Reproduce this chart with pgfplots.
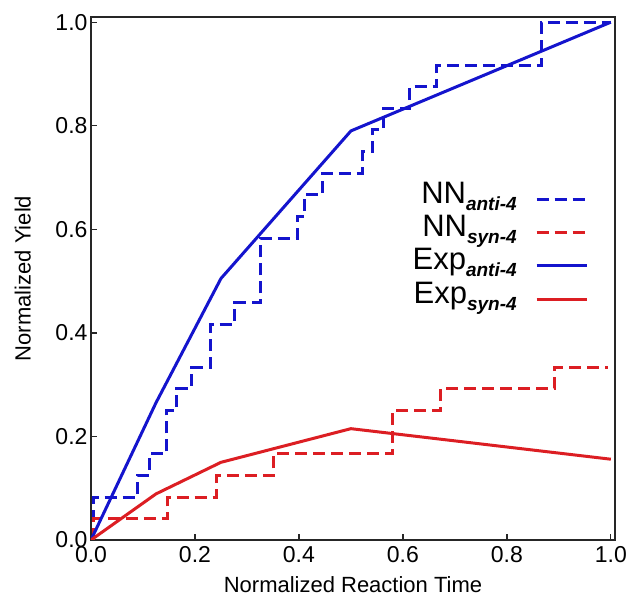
\documentclass[border=0pt]{standalone}
\usepackage{fontspec}
\setmainfont{Liberation Sans}
\usepackage{pgfplots}
\pgfplotsset{compat=1.18}
\definecolor{cblue}{RGB}{20,20,205}
\definecolor{cred}{RGB}{220,30,35}
\newcommand{\sub}[1]{\raisebox{-7pt}{\fontsize{19}{19}\selectfont\bfseries\itshape #1}}
\begin{document}
\begin{tikzpicture}
\begin{axis}[
  scale only axis, width=524pt, height=523pt,
  xmin=0, xmax=1.008, ymin=0, ymax=1.01,
  xtick={0,0.2,0.4,0.6,0.8,1.0}, ytick={0,0.2,0.4,0.6,0.8,1.0},
  tick align=inside, xtick pos=bottom, ytick pos=left,
  major tick length=6pt,
  axis line style={line width=1.3pt, black!85},
  every tick/.style={line width=1.3pt, black!85},
  /pgf/number format/assume math mode=true,
  /pgf/number format/.cd, fixed, fixed zerofill, precision=1, /pgfplots/.cd,
  tick label style={font=\fontsize{23}{23}\selectfont},
  xticklabel style={yshift=-3pt},
  xlabel={Normalized Reaction Time},
  ylabel={Normalized Yield},
  xlabel style={font=\fontsize{22}{22}\selectfont, at={(axis description cs:0.5,-0.101)}, anchor=base},
  ylabel style={font=\fontsize{22}{22}\selectfont, at={(axis description cs:-0.13,0.5)}, anchor=center},
  legend style={draw=none, fill=none, at={(axis description cs:0.955,0.693)}, anchor=north east,
    font=\fontsize{31}{31}\selectfont, row sep=6.5pt, cells={anchor=east}},
  legend plot pos=right,
  legend image code/.code={\path[draw=none] (0pt,-6pt) -- (18pt,-6pt); \draw[#1] (18pt,-6pt) -- (68pt,-6pt);},
]
\addplot[cblue, line width=3pt, dash pattern=on 12pt off 6pt] coordinates {
(0.005,0) (0.005,0.083) (0.09,0.083) (0.09,0.125) (0.112,0.125) (0.112,0.167)
(0.146,0.167) (0.146,0.25) (0.165,0.25) (0.165,0.292) (0.193,0.292) (0.193,0.333)
(0.23,0.333) (0.23,0.417) (0.276,0.417) (0.276,0.458) (0.327,0.458) (0.327,0.583)
(0.397,0.583) (0.397,0.625) (0.41,0.625) (0.41,0.667) (0.445,0.667) (0.445,0.708)
(0.523,0.708) (0.523,0.75) (0.542,0.75) (0.542,0.792) (0.563,0.792) (0.563,0.833)
(0.613,0.833) (0.613,0.875) (0.665,0.875) (0.665,0.917) (0.866,0.917) (0.866,1.0)
(1.0,1.0)};
\addlegendentry{NN\sub{anti-4}}
\addplot[cred, line width=3pt, dash pattern=on 12pt off 6pt] coordinates {
(0.005,0) (0.005,0.042) (0.148,0.042) (0.148,0.083) (0.242,0.083) (0.242,0.125)
(0.352,0.125) (0.352,0.167) (0.58,0.167) (0.58,0.25) (0.673,0.25) (0.673,0.292)
(0.892,0.292) (0.892,0.333) (0.995,0.333)};
\addlegendentry{NN\sub{syn-4}}
\addplot[cblue, line width=3pt] coordinates {(0,0) (0.125,0.265) (0.25,0.505) (0.5,0.79) (1.0,1.0)};
\addlegendentry{Exp\sub{anti-4}}
\addplot[cred, line width=3pt] coordinates {(0,0) (0.125,0.089) (0.25,0.15) (0.5,0.215) (1.0,0.156)};
\addlegendentry{Exp\sub{syn-4}}
\end{axis}
\pgfresetboundingbox
\path[use as bounding box] (current axis.south west) ++(-91pt,-56pt) rectangle ([xshift=12pt,yshift=17pt]current axis.north east);
\end{tikzpicture}
\end{document}
